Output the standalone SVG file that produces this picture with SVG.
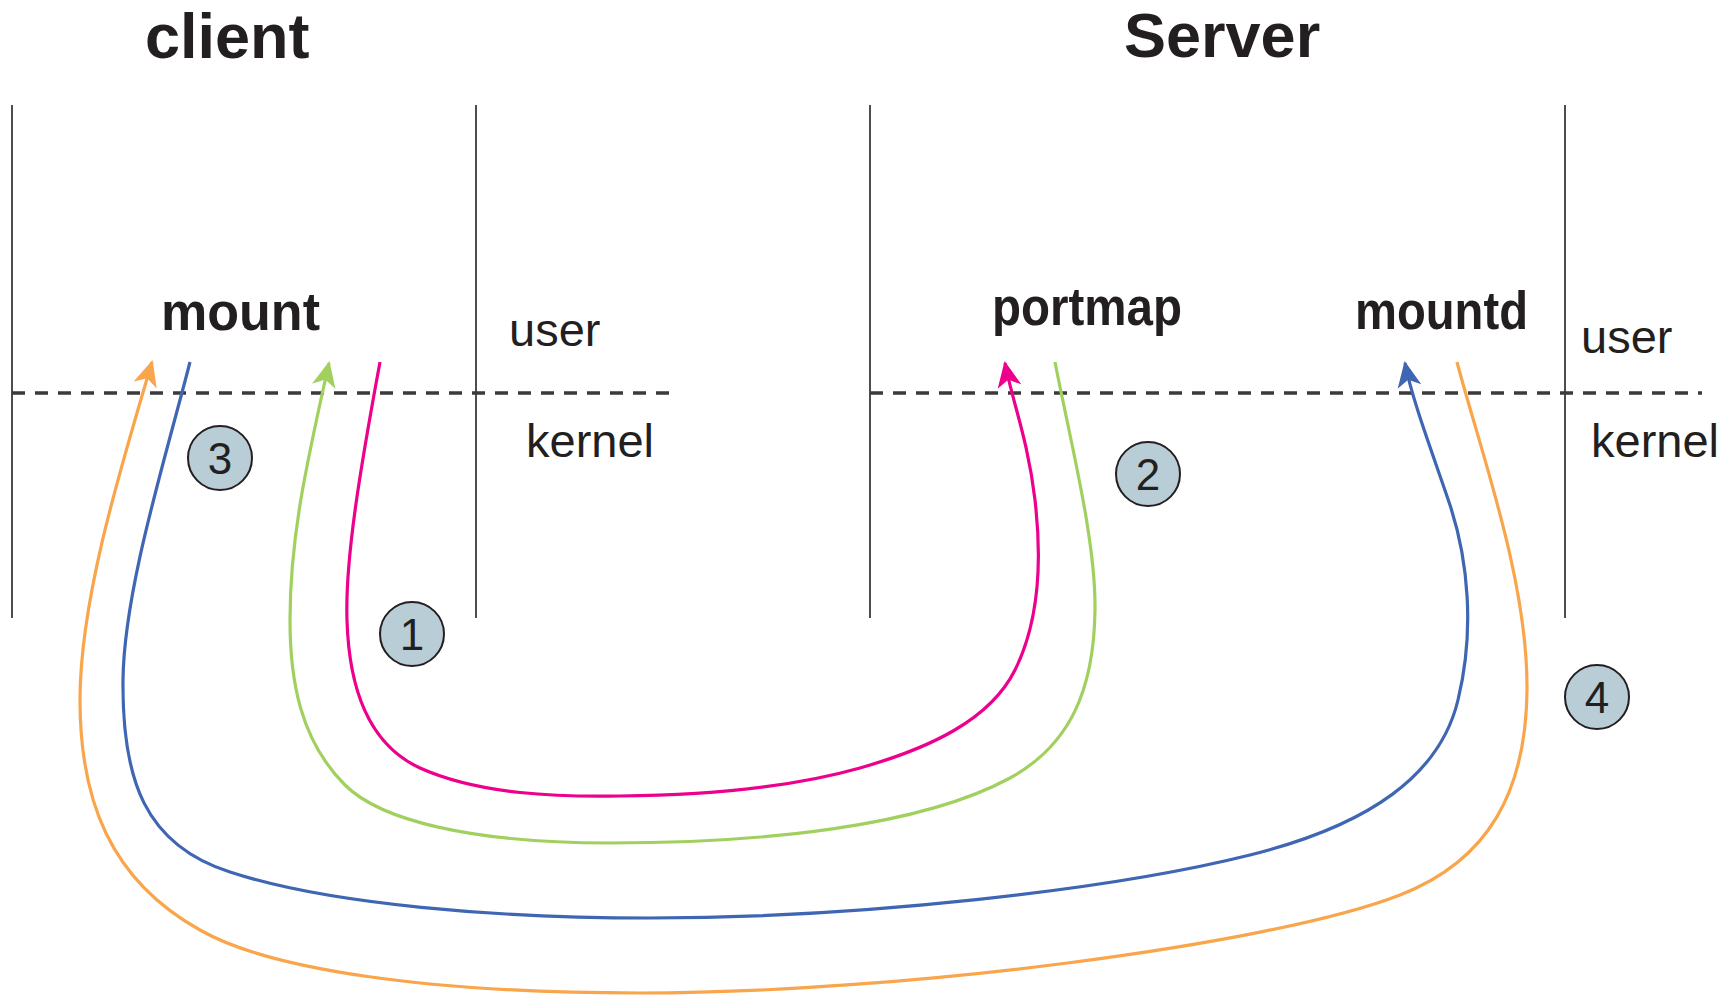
<svg xmlns="http://www.w3.org/2000/svg" width="1735" height="996" viewBox="0 0 1735 996">
<style>
.title{font-family:"Liberation Sans",Arial,sans-serif;font-weight:bold;font-size:63px;fill:#231f20}
.proc{font-family:"Liberation Sans",Arial,sans-serif;font-weight:bold;font-size:54px;fill:#231f20}
.lbl{font-family:"Liberation Sans",Arial,sans-serif;font-size:47px;fill:#231f20}
.num{font-family:"Liberation Sans",Arial,sans-serif;font-size:44px;fill:#231f20;text-anchor:middle}
.vline{stroke:#4d4d4f;stroke-width:2;fill:none}
.dash{stroke:#3a3a3c;stroke-width:3.3;stroke-dasharray:13 10;fill:none}
.badge{fill:#b9cdd6;stroke:#231f20;stroke-width:2}
.flow{fill:none;stroke-width:3.2}
</style>
<defs>
<marker id="ah-m" markerUnits="userSpaceOnUse" orient="auto" overflow="visible" refX="0" refY="0" markerWidth="30" markerHeight="30"><path d="M2,0 L-24,-12 L-17,0 L-24,12 Z" fill="#ec008c"/></marker>
<marker id="ah-g" markerUnits="userSpaceOnUse" orient="auto" overflow="visible" refX="0" refY="0" markerWidth="30" markerHeight="30"><path d="M2,0 L-24,-12 L-17,0 L-24,12 Z" fill="#a2d05f"/></marker>
<marker id="ah-b" markerUnits="userSpaceOnUse" orient="auto" overflow="visible" refX="0" refY="0" markerWidth="30" markerHeight="30"><path d="M2,0 L-24,-12 L-17,0 L-24,12 Z" fill="#3e66b2"/></marker>
<marker id="ah-o" markerUnits="userSpaceOnUse" orient="auto" overflow="visible" refX="0" refY="0" markerWidth="30" markerHeight="30"><path d="M2,0 L-24,-12 L-17,0 L-24,12 Z" fill="#f9a54b"/></marker>
</defs>

<g id="frame">
<line class="vline" x1="12" y1="105" x2="12" y2="618"/>
<line class="vline" x1="476" y1="105" x2="476" y2="618"/>
<line class="vline" x1="870" y1="105" x2="870" y2="618"/>
<line class="vline" x1="1565" y1="105" x2="1565" y2="618"/>
<line class="dash" x1="12" y1="393" x2="670" y2="393"/>
<line class="dash" x1="870" y1="393" x2="1702" y2="393"/>
</g>

<g id="client-title"><text class="title" x="145" y="58">client</text></g>
<g id="server-title"><text class="title" x="1124" y="57">Server</text></g>

<g id="client-user"><text class="lbl" x="509" y="346">user</text></g>
<g id="client-kernel"><text class="lbl" x="526" y="457">kernel</text></g>
<g id="server-user"><text class="lbl" x="1581" y="353">user</text></g>
<g id="server-kernel"><text class="lbl" x="1591" y="457">kernel</text></g>

<g id="mount"><text class="proc" x="161" y="330" textLength="159" lengthAdjust="spacingAndGlyphs">mount</text></g>
<g id="portmap"><text class="proc" x="992" y="325" textLength="190" lengthAdjust="spacingAndGlyphs">portmap</text></g>
<g id="mountd"><text class="proc" x="1355" y="329" textLength="173" lengthAdjust="spacingAndGlyphs">mountd</text></g>

<g id="connectors">
<path class="flow" stroke="#ec008c" marker-end="url(#ah-m)" d="M380,362 C360,470 345,560 347,620 C349,690 370,745 420,768 C480,795 560,797 620,796 C720,795 800,785 860,768 C930,748 990,720 1015,670 C1040,620 1042,560 1035,500 C1028,440 1012,400 1005,363"/>
<path class="flow" stroke="#a2d05f" marker-end="url(#ah-g)" d="M1055,362 C1070,440 1096,540 1095,610 C1094,690 1070,745 1010,778 C920,827 760,843 610,843 C470,843 380,820 345,785 C300,740 290,680 290,620 C290,540 305,470 329,363"/>
<path class="flow" stroke="#3e66b2" marker-end="url(#ah-b)" d="M190,362 C165,460 124,590 123,680 C122,780 145,845 230,872 C330,905 500,918 650,918 C860,918 1110,890 1250,855 C1370,825 1440,775 1458,700 C1475,630 1468,560 1450,505 C1435,460 1412,400 1405,363"/>
<path class="flow" stroke="#f9a54b" marker-end="url(#ah-o)" d="M1457,362 C1480,450 1528,580 1527,690 C1526,790 1490,860 1400,895 C1272,945 900,993 640,993 C430,993 270,970 200,930 C110,880 80,800 80,700 C80,600 120,470 152,362"/>
</g>

<g id="step1"><circle class="badge" cx="412" cy="634" r="32"/><text class="num" x="412" y="650">1</text></g>
<g id="step2"><circle class="badge" cx="1148" cy="474" r="32"/><text class="num" x="1148" y="490">2</text></g>
<g id="step3"><circle class="badge" cx="220" cy="458" r="32"/><text class="num" x="220" y="474">3</text></g>
<g id="step4"><circle class="badge" cx="1597" cy="697" r="32"/><text class="num" x="1597" y="713">4</text></g>
</svg>
